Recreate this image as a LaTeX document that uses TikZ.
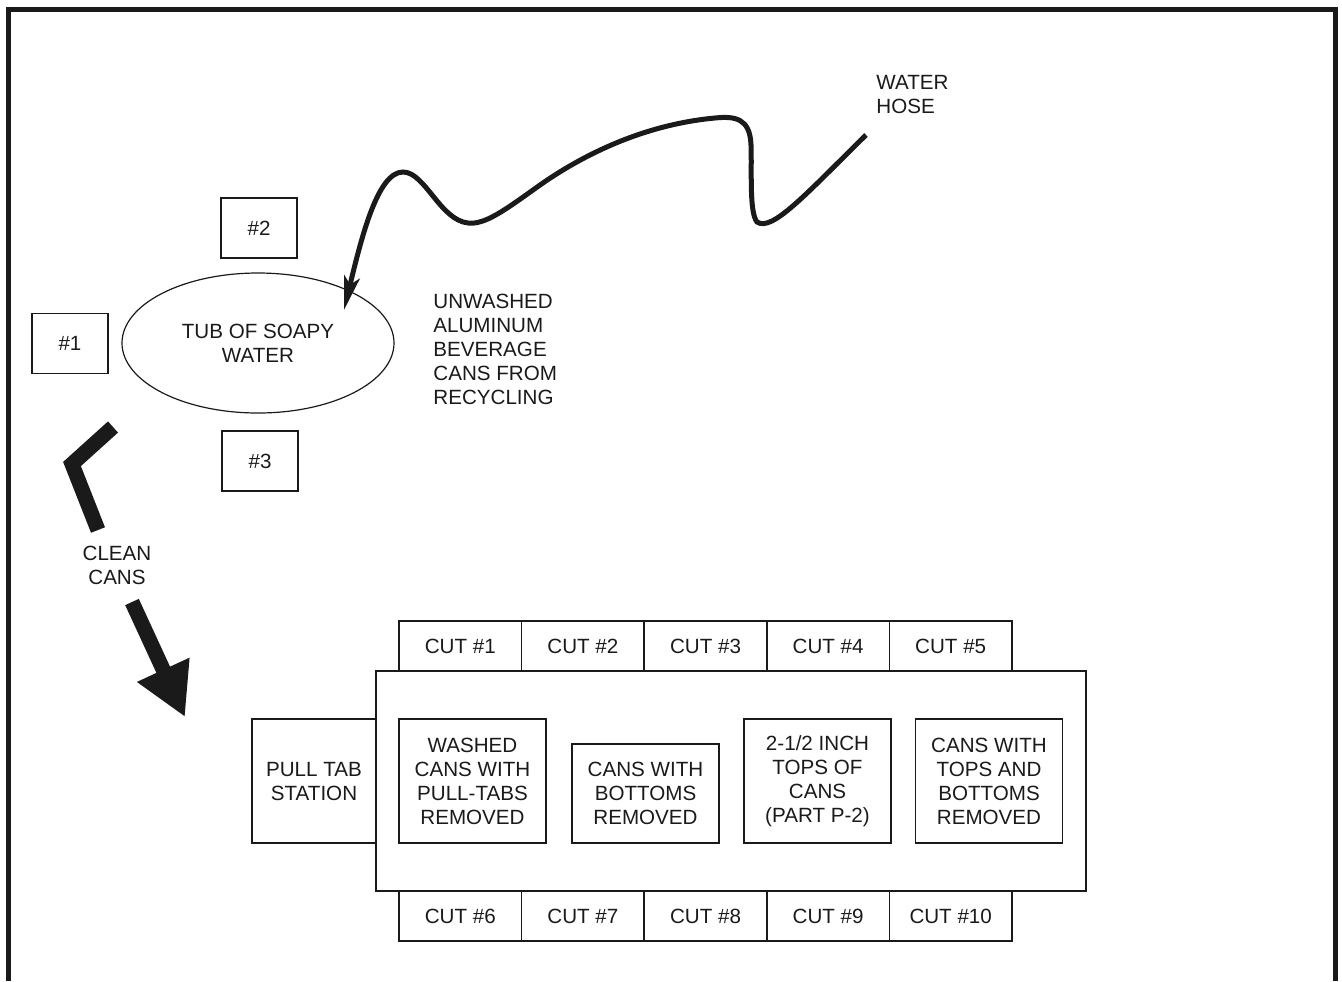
\documentclass[tikz,border=0pt]{standalone}
\usepackage{fontspec}
\setmainfont{Liberation Sans}
\usepackage{tikz}
\usetikzlibrary{arrows.meta,positioning,shapes.geometric}
\definecolor{inkgray}{HTML}{1A1A1A}

\begin{document}
\begin{tikzpicture}[x=0.5pt,y=-0.5pt,
  lbl/.style={font=\fontsize{10.3}{12}\selectfont,align=center,inner sep=0pt,text=inkgray},
  box/.style={draw=inkgray,line width=0.8pt,lbl,minimum width=38pt,minimum height=30pt},
  cut/.style={box,minimum width=61.3pt,minimum height=25pt,outer sep=0pt},
  bin/.style={box,minimum width=73.5pt,minimum height=62pt},
  hose/.style={line width=2.5pt,inkgray,-{Stealth[length=17pt,width=8pt,inset=4pt]}},
  fat/.style={line width=7.5pt,inkgray,line join=miter},
  fatarr/.style={fat,-{Triangle[length=26pt,width=27pt]}}]
  \useasboundingbox (0,0) rectangle (1342,981);
  \draw[inkgray,line width=2.5pt] (8,981) -- (8,9.5) -- (1335,9.5) -- (1335,981);

  \node[ellipse,draw=inkgray,line width=0.6pt,lbl,minimum width=136pt,minimum height=70pt] (tub) at (258,343) {TUB OF SOAPY\\WATER};
  \node[box] (p2) at (259,228) {\#2};
  \node[box] (p1) at (70,343.5) {\#1};
  \node[box] (p3) at (260,461) {\#3};
  \node[lbl,align=left,anchor=west] (dirty) at (433,349) {UNWASHED\\ALUMINUM\\BEVERAGE\\CANS FROM\\RECYCLING};
  \node[lbl,align=left,anchor=west] (tap) at (876,95) {WATER\\HOSE};
  \node[lbl] (clean) at (117,565) {CLEAN\\CANS};

  \node[draw=inkgray,line width=0.8pt,minimum width=355pt,minimum height=110pt,inner sep=0pt] (bench) at (731,781) {};
  \node[box,minimum width=62pt,minimum height=62pt] (pull) at (314,781) {PULL TAB\\STATION};
  \node[bin] (washed) at (472.5,781) {WASHED\\CANS WITH\\PULL-TABS\\REMOVED};
  \node[bin,minimum height=49.5pt] (bottoms) at (645.5,793.5) {CANS WITH\\BOTTOMS\\REMOVED};
  \node[bin] (tops) at (817.5,781) {2-1/2 INCH\\TOPS OF\\CANS\\(PART P-2)};
  \node[bin] (rings) at (989,781) {CANS WITH\\TOPS AND\\BOTTOMS\\REMOVED};

  \node[cut,anchor=south west] (cut1) at (399,671) {CUT \#1};
  \node[cut,right=0pt of cut1] (cut2) {CUT \#2};
  \node[cut,right=0pt of cut2] (cut3) {CUT \#3};
  \node[cut,right=0pt of cut3] (cut4) {CUT \#4};
  \node[cut,right=0pt of cut4] (cut5) {CUT \#5};
  \node[cut,anchor=north west] (cut6) at (399,891) {CUT \#6};
  \node[cut,right=0pt of cut6] (cut7) {CUT \#7};
  \node[cut,right=0pt of cut7] (cut8) {CUT \#8};
  \node[cut,right=0pt of cut8] (cut9) {CUT \#9};
  \node[cut,right=0pt of cut9] (cut10) {CUT \#10};

  \coordinate (hosefree) at (866,135);
  \coordinate (hosetip) at (344,310);
  \draw[hose] (hosefree) .. controls (805,195) and (772,232) .. (757,222)
    .. controls (749,212) and (752,170) .. (751,145)
    .. controls (750,118) and (735,116) .. (715,118)
    .. controls (650,124) and (590,150) .. (540,185)
    .. controls (505,210) and (485,225) .. (468,223)
    .. controls (440,220) and (425,172) .. (403,172)
    .. controls (378,172) and (362,235) .. (hosetip);

  \coordinate (out1) at (113,427);
  \coordinate (out2) at (72,464);
  \coordinate (out3) at (98,530);
  \draw[fat] (out1) -- (out2) -- (out3);
  \coordinate (in1) at (132,602);
  \coordinate (in2) at (185,717);
  \draw[fatarr] (in1) -- (in2);
\end{tikzpicture}
\end{document}
